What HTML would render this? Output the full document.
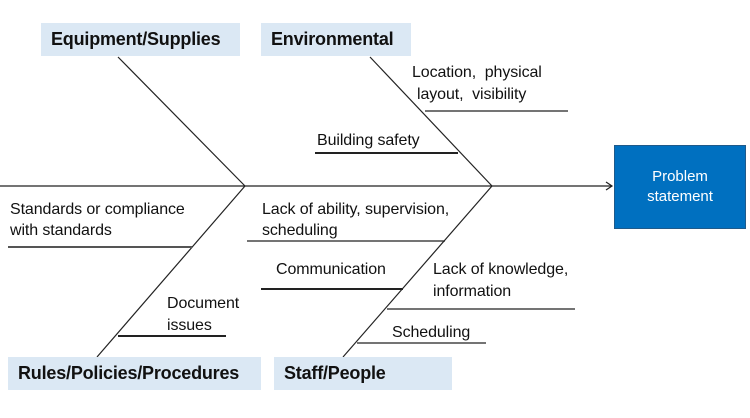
<!DOCTYPE html>
<html><head><meta charset="utf-8"><style>
body{margin:0;width:750px;height:418px;background:#fff;overflow:hidden;position:relative;font-family:"Liberation Sans",sans-serif}
.t{position:absolute;font-size:16px;color:#111;line-height:21px;white-space:nowrap;letter-spacing:-0.1px}
.h{position:absolute;background:#dbe8f4;font-weight:bold;font-size:18px;color:#111;box-sizing:border-box;padding-left:10px;display:flex;align-items:center;letter-spacing:-0.2px}
</style></head><body>
<svg width="750" height="418" style="position:absolute;left:0;top:0">
<g stroke="#222" stroke-width="1.2" fill="none">
<line x1="0" y1="186" x2="612" y2="186"/>
<polyline points="606,182 612,186 606,190"/>
<line x1="118" y1="57" x2="245" y2="186"/>
<line x1="370" y1="57" x2="492" y2="186"/>
<line x1="245" y1="186" x2="97" y2="357"/>
<line x1="492" y1="186" x2="343" y2="357"/>
<line x1="425" y1="111" x2="568" y2="111"/>
<line x1="315" y1="153" x2="458" y2="153" stroke-width="2"/>
<line x1="8" y1="247" x2="192" y2="247" stroke-width="2" stroke="#555"/>
<line x1="247" y1="241" x2="445" y2="241"/>
<line x1="261" y1="289" x2="403" y2="289" stroke-width="2"/>
<line x1="387" y1="309" x2="575" y2="309"/>
<line x1="118" y1="336" x2="226" y2="336" stroke-width="2"/>
<line x1="357" y1="343" x2="486" y2="343"/>
</g>
</svg>
<div class="h" style="left:41px;top:23px;width:199px;height:33px">Equipment/Supplies</div>
<div class="h" style="left:261px;top:23px;width:150px;height:33px">Environmental</div>
<div class="h" style="left:8px;top:357px;width:253px;height:33px">Rules/Policies/Procedures</div>
<div class="h" style="left:274px;top:357px;width:178px;height:33px">Staff/People</div>
<div style="position:absolute;left:614px;top:145px;width:130px;height:82px;background:#0070c0;border:1px solid #1f5a8a;color:#fff;font-size:15px;text-align:center;line-height:20px;display:flex;align-items:center;justify-content:center">Problem<br>statement</div>
<div class="t" style="left:412px;top:62px">Location,&nbsp; physical</div>
<div class="t" style="left:417px;top:84px">layout,&nbsp; visibility</div>
<div class="t" style="left:317px;top:130px">Building safety</div>
<div class="t" style="left:10px;top:199px">Standards or compliance</div>
<div class="t" style="left:10px;top:220px">with standards</div>
<div class="t" style="left:262px;top:199px">Lack of ability, supervision,</div>
<div class="t" style="left:262px;top:220px">scheduling</div>
<div class="t" style="left:276px;top:259px">Communication</div>
<div class="t" style="left:433px;top:259px">Lack of knowledge,</div>
<div class="t" style="left:433px;top:281px">information</div>
<div class="t" style="left:167px;top:293px">Document</div>
<div class="t" style="left:167px;top:315px">issues</div>
<div class="t" style="left:392px;top:322px">Scheduling</div>
</body></html>
